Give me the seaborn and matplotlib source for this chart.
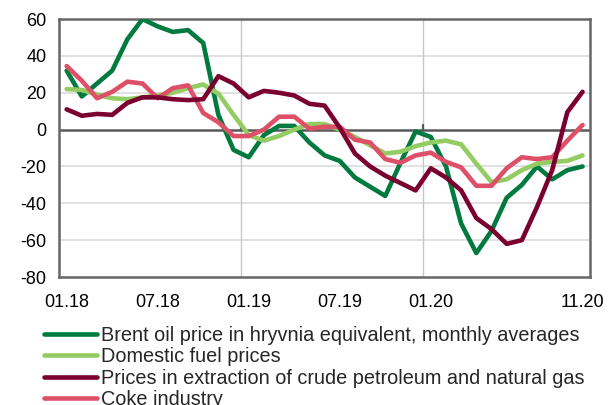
import numpy as np
import pandas as pd
import matplotlib
matplotlib.use("Agg")
import matplotlib.pyplot as plt
import seaborn as sns

# monthly data, 01.18 .. 11.20
months = pd.date_range("2018-01-01", "2020-11-01", freq="MS").strftime("%m.%y").tolist()

brent = [32, 18, 25, 32, 49, 60, 56, 53, 54, 47, 8, -11, -15, -3, 2, 2, -7, -14,
         -17, -26, -31, -36, -18, -1, -4, -20, -51, -67, -55, -37, -30, -20, -27, -22, -20]
fuel = [22, 21.5, 19, 17, 16.5, 17.5, 18.5, 20, 22.5, 24.5, 19.5, 8, -3, -6, -3.5, 0, 3, 3,
        0, -4, -8.5, -13, -12, -9, -7, -6, -8, -18.5, -28.5, -27, -22, -18.5, -17.5, -17, -14]
extraction = [11, 7.5, 8.5, 8, 14.5, 17.5, 17.5, 16.5, 16, 16.5, 29, 25, 17.5, 21, 20, 18.5, 14, 13,
              1, -13, -20, -25, -29, -33, -21, -26, -33, -48, -54, -62, -60, -42, -22, 9.5, 20.5]
coke = [34.5, 26.5, 17, 20.5, 26, 25, 17, 22.5, 24, 9, 4, -3.5, -3.5, 0, 7, 7, 0.5, 1.5,
        1.5, -5.5, -7, -16, -18, -14, -12.5, -17.5, -20.5, -30.5, -30.5, -21, -15, -16, -15, -6, 2.5]

series_names = [
    "Brent oil price in hryvnia equivalent, monthly averages",
    "Domestic fuel prices",
    "Prices in extraction of crude petroleum and natural gas",
    "Coke industry",
]
colors = ["#007A3E", "#92CC62", "#7A0030", "#DE4F68"]
tick_months = ["01.18", "07.18", "01.19", "07.19", "01.20", "11.20"]

df = pd.DataFrame({
    "month": months,
    series_names[0]: brent,
    series_names[1]: fuel,
    series_names[2]: extraction,
    series_names[3]: coke,
})
df["idx"] = np.arange(len(df))
long_df = df.melt(id_vars=["month", "idx"], var_name="series", value_name="value")

sns.set_style("white")
plt.rcParams["font.family"] = ["Liberation Sans", "DejaVu Sans"]

fig = plt.figure(figsize=(6.09, 4.05), dpi=100)
ax = fig.add_axes([0.097, 0.316, 0.872, 0.637])

# draw order: coke below extraction
draw_order = [0, 1, 3, 2]
for i in draw_order:
    sns.lineplot(data=long_df[long_df["series"] == series_names[i]], x="idx", y="value",
                 color=colors[i], linewidth=3.3, ax=ax, zorder=3 + draw_order.index(i),
                 solid_joinstyle="round", legend=False)

ax.set_xlim(-0.5, len(months) - 0.5)
ax.set_ylim(-80, 60)
ax.set_yticks(range(-80, 61, 20))
ax.set_yticklabels([str(v) for v in range(-80, 61, 20)])
ax.set_xticks([months.index(m) for m in tick_months])
ax.set_xticklabels(tick_months)
ax.tick_params(axis="both", length=0, labelsize=13, colors="black")
ax.tick_params(axis="y", pad=9)
ax.tick_params(axis="x", pad=12)
ax.set_xlabel("")
ax.set_ylabel("")

for v in range(-60, 60, 20):
    if v != 0:
        ax.axhline(v, color="#D9D9D9", linewidth=1.1, zorder=1)
for yb in (11.5, 23.5):
    ax.axvline(yb, color="#C4C8CE", linewidth=1.0, zorder=1)
    ax.plot([yb, yb], [0, 2.5], color="#595959", linewidth=1.6, zorder=2)
ax.axhline(0, color="#595959", linewidth=1.8, zorder=2)

for side in ["left", "right", "top", "bottom"]:
    ax.spines[side].set_visible(True)
    ax.spines[side].set_color("#666666")
    ax.spines[side].set_linewidth(1.8)

handles = [plt.Line2D([], [], color=c, linewidth=3.3, solid_capstyle="round") for c in colors]
fig.legend(handles, series_names, loc="upper left", bbox_to_anchor=(0.072, 0.195),
           bbox_transform=fig.transFigure, frameon=False, fontsize=14.3,
           handlelength=2.7, handletextpad=0.2, labelspacing=0.12, borderpad=0,
           borderaxespad=0)

fig.savefig("out.png", dpi=100)
